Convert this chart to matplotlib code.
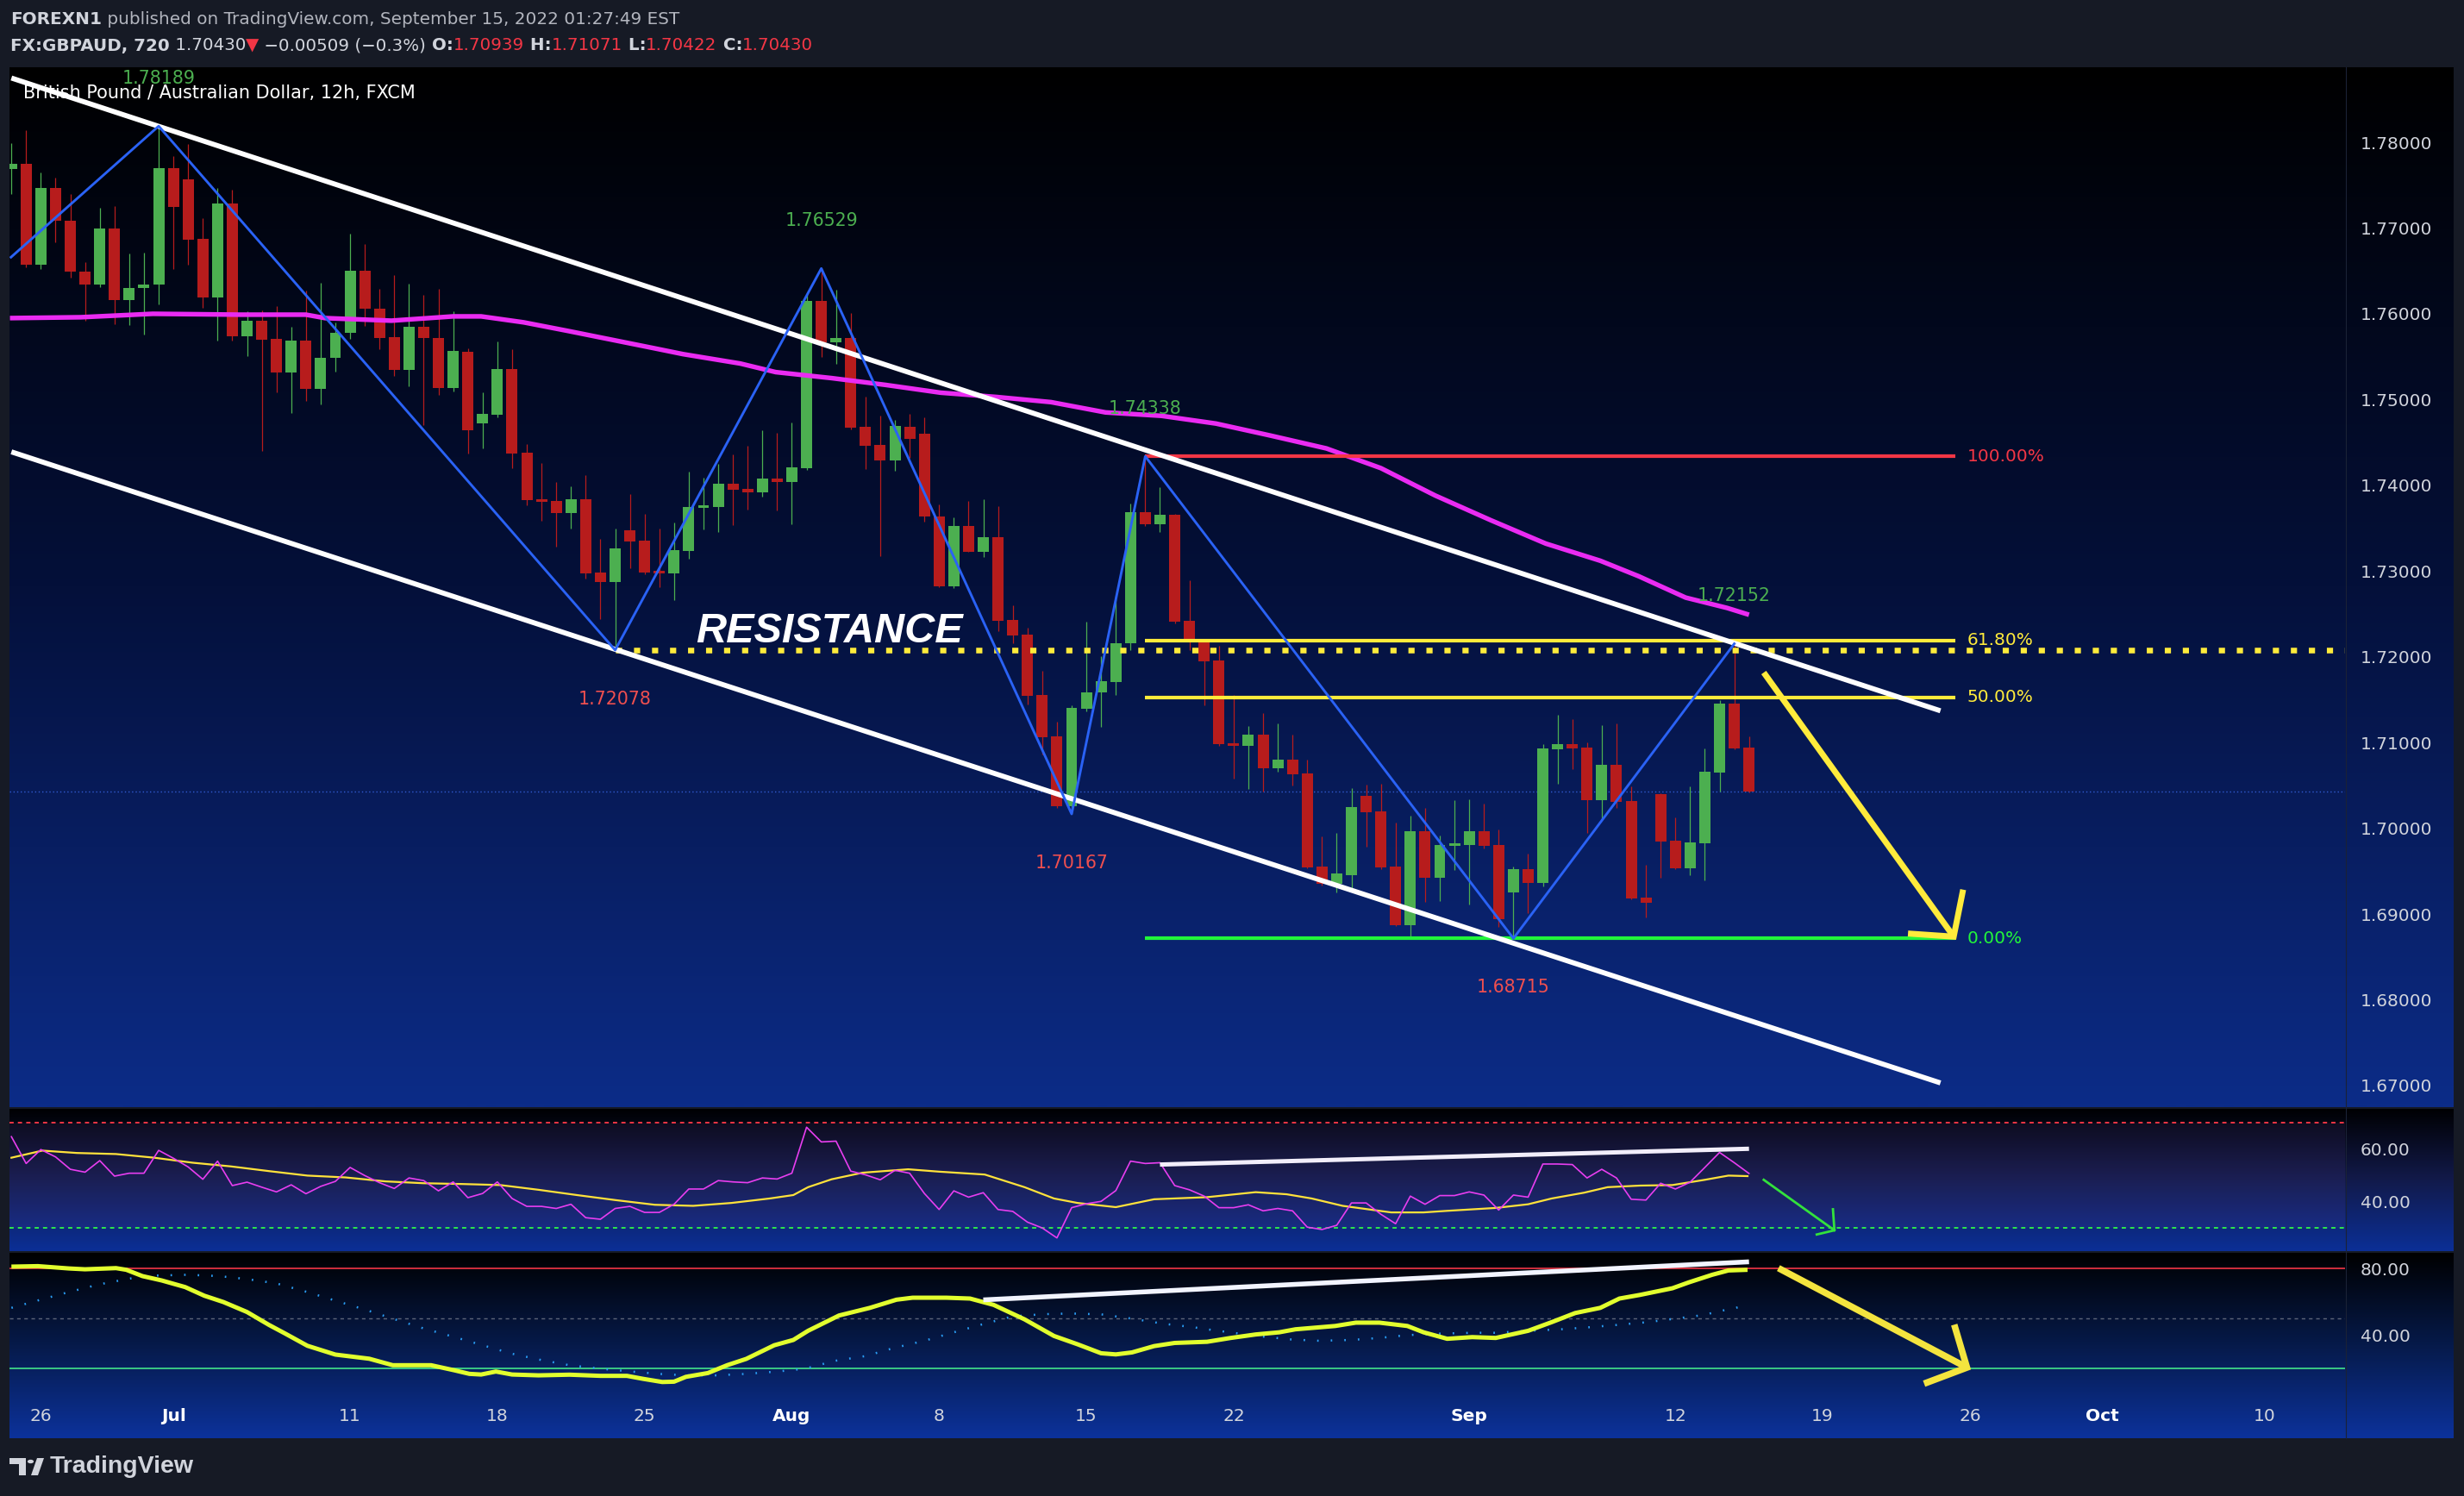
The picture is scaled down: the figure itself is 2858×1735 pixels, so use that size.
import numpy as np
import matplotlib
matplotlib.use("Agg")
import matplotlib.pyplot as plt
from matplotlib.colors import LinearSegmentedColormap
from matplotlib.patches import Rectangle, Polygon, Circle
from matplotlib.lines import Line2D

# ---------------------------------------------------------------- data
# bar index 0 = Sun 26 Jun 2022 17:00 (12h bars, 10 per week)
bar_index = list(range(-2, 117))
opens = [1.77687, 1.77746, 1.76577, 1.77468, 1.77082, 1.76495, 1.76340, 1.76995, 1.76158, 1.76299,
         1.76340, 1.77701, 1.77569, 1.76877, 1.76190, 1.77291, 1.75735, 1.75921, 1.75703, 1.75312,
         1.75689, 1.75121, 1.75485, 1.75776, 1.76504, 1.76063, 1.75730, 1.75344, 1.75853, 1.75721,
         1.75134, 1.75557, 1.74722, 1.74823, 1.75356, 1.74380, 1.73834, 1.73817, 1.73676, 1.73837,
         1.72983, 1.72872, 1.73475, 1.73355, 1.72989, 1.72972, 1.73234, 1.73740, 1.73747, 1.74018,
         1.73958, 1.73918, 1.74079, 1.74038, 1.74199, 1.76150, 1.75667, 1.75718, 1.74682, 1.74471,
         1.74290, 1.74687, 1.74603, 1.73641, 1.72826, 1.73524, 1.73228, 1.73396, 1.72431, 1.72260,
         1.71554, 1.71072, 1.70257, 1.71397, 1.71580, 1.71708, 1.72154, 1.73682, 1.73550, 1.73656,
         1.72420, 1.72165, 1.71956, 1.70984, 1.70966, 1.71094, 1.70695, 1.70801, 1.70640, 1.69555,
         1.69350, 1.69455, 1.70377, 1.70196, 1.69552, 1.68872, 1.69964, 1.69425, 1.69797, 1.69807,
         1.69964, 1.69804, 1.69254, 1.69522, 1.69364, 1.70923, 1.70980, 1.70940, 1.70330, 1.70739,
         1.70316, 1.69190, 1.70397, 1.69854, 1.69535, 1.69827, 1.70652, 1.71453, 1.70939]
highs = [1.77987, 1.78142, 1.77650, 1.77591, 1.77400, 1.76604, 1.77236, 1.77259, 1.76704, 1.76718,
         1.78189, 1.77842, 1.77983, 1.77118, 1.77468, 1.77450, 1.76026, 1.76040, 1.76085, 1.75853,
         1.76267, 1.76358, 1.75903, 1.76936, 1.76809, 1.76295, 1.76454, 1.76354, 1.76222, 1.76295,
         1.76031, 1.75597, 1.75084, 1.75678, 1.75587, 1.74481, 1.74260, 1.74038, 1.73988, 1.74119,
         1.73375, 1.73499, 1.73898, 1.73666, 1.73499, 1.73566, 1.74159, 1.74089, 1.74250, 1.74360,
         1.74461, 1.74642, 1.74612, 1.74732, 1.76231, 1.76529, 1.76281, 1.76009, 1.75034, 1.74813,
         1.74762, 1.74833, 1.74789, 1.73773, 1.73627, 1.73813, 1.73839, 1.73758, 1.72600, 1.72340,
         1.71836, 1.71243, 1.71433, 1.72409, 1.72007, 1.72713, 1.73788, 1.74338, 1.73974, 1.73671,
         1.72892, 1.72175, 1.72128, 1.71554, 1.71192, 1.71342, 1.71221, 1.71094, 1.70801, 1.69906,
         1.69946, 1.70467, 1.70507, 1.70518, 1.70065, 1.70145, 1.70236, 1.69914, 1.70326, 1.70337,
         1.70286, 1.69985, 1.69552, 1.69703, 1.70980, 1.71322, 1.71272, 1.71000, 1.71201, 1.71221,
         1.70487, 1.69572, 1.70410, 1.70125, 1.70487, 1.70930, 1.71493, 1.72152, 1.71071]
lows = [1.77396, 1.76540, 1.76518, 1.76831, 1.76417, 1.75917, 1.76313, 1.75876, 1.75867, 1.75758,
        1.76108, 1.76518, 1.76572, 1.76067, 1.75685, 1.75685, 1.75503, 1.74397, 1.75084, 1.74843,
        1.74984, 1.74948, 1.75325, 1.75712, 1.75858, 1.75585, 1.75280, 1.75153, 1.74702, 1.75052,
        1.75093, 1.74370, 1.74431, 1.74796, 1.74203, 1.73767, 1.73589, 1.73288, 1.73499, 1.72916,
        1.72443, 1.72078, 1.73033, 1.72960, 1.72815, 1.72664, 1.73143, 1.73489, 1.73459, 1.73539,
        1.73720, 1.73871, 1.73710, 1.73549, 1.74179, 1.75497, 1.75416, 1.74650, 1.74189, 1.73174,
        1.74169, 1.74321, 1.73579, 1.72810, 1.72797, 1.73221, 1.73159, 1.72296, 1.72157, 1.71448,
        1.70863, 1.70240, 1.70167, 1.71368, 1.71185, 1.71558, 1.72073, 1.73528, 1.73459, 1.72391,
        1.72073, 1.71437, 1.70960, 1.70575, 1.70461, 1.70432, 1.70655, 1.70494, 1.69533, 1.69330,
        1.69251, 1.69274, 1.69787, 1.69519, 1.68860, 1.68741, 1.69143, 1.69153, 1.69515, 1.69113,
        1.69767, 1.68852, 1.68715, 1.69012, 1.69324, 1.70521, 1.70692, 1.69948, 1.70109, 1.70239,
        1.69170, 1.68962, 1.69425, 1.69525, 1.69455, 1.69395, 1.70430, 1.70923, 1.70422]
closes = [1.77746, 1.76577, 1.77468, 1.77082, 1.76495, 1.76340, 1.76995, 1.76158, 1.76304, 1.76345,
          1.77701, 1.77250, 1.76868, 1.76190, 1.77291, 1.75735, 1.75921, 1.75694, 1.75312, 1.75689,
          1.75121, 1.75489, 1.75780, 1.76504, 1.76058, 1.75721, 1.75344, 1.75853, 1.75717, 1.75134,
          1.75571, 1.74642, 1.74833, 1.75356, 1.74370, 1.73827, 1.73810, 1.73676, 1.73837, 1.72972,
          1.72872, 1.73264, 1.73348, 1.72983, 1.72972, 1.73244, 1.73747, 1.73757, 1.74018, 1.73951,
          1.73918, 1.74079, 1.74038, 1.74209, 1.76150, 1.75667, 1.75718, 1.74672, 1.74461, 1.74290,
          1.74692, 1.74544, 1.73641, 1.72826, 1.73524, 1.73228, 1.73396, 1.72424, 1.72252, 1.71547,
          1.71064, 1.70257, 1.71404, 1.71583, 1.71715, 1.72157, 1.73682, 1.73550, 1.73656, 1.72413,
          1.72165, 1.71949, 1.70977, 1.70966, 1.71094, 1.70695, 1.70801, 1.70633, 1.69544, 1.69350,
          1.69474, 1.70246, 1.70189, 1.69545, 1.68872, 1.69964, 1.69425, 1.69804, 1.69814, 1.69964,
          1.69797, 1.68942, 1.69522, 1.69364, 1.70930, 1.70980, 1.70933, 1.70330, 1.70739, 1.70310,
          1.69183, 1.69133, 1.69847, 1.69535, 1.69834, 1.70658, 1.71453, 1.70933, 1.70430]

ema_idx = [-2.1, 2.7, 7.6, 13.5, 18.0, 19.3, 23.8, 28.0, 29.9, 32.8, 35.8, 38.7, 41.6, 43.6, 47.5,
           49.9, 53.7, 57.4, 61.1, 64.9, 68.6, 72.3, 76.1, 79.8, 83.5, 87.3, 91.0, 94.7, 98.5,
           102.2, 105.9, 108.5, 111.7, 114.5, 116.0]
ema_val = [1.7595, 1.7596, 1.7600, 1.7599, 1.7599, 1.7595, 1.7592, 1.7597, 1.7597, 1.7590, 1.7580,
           1.7570, 1.7560, 1.7553, 1.7542, 1.7532, 1.7525, 1.7517, 1.7508, 1.7503, 1.7497, 1.7485,
           1.7481, 1.7472, 1.7458, 1.7443, 1.7420, 1.7388, 1.7359, 1.7332, 1.7312, 1.7294, 1.7269,
           1.7257, 1.7249]

zigzag_idx = [-2.03, 8, 39, 53, 70, 75, 100, 115]
zigzag_val = [1.7666, 1.78189, 1.72078, 1.76529, 1.70167, 1.74338, 1.68715, 1.72152]
swing_high_idx = [8, 53, 75, 115]
swing_high_val = [1.78189, 1.76529, 1.74338, 1.72152]
swing_low_idx = [39, 70, 100]
swing_low_val = [1.72078, 1.70167, 1.68715]

channel_idx = [-2.0, 129.0]
channel_upper = [1.7875, 1.7137]
channel_lower = [1.7439, 1.6703]

fib_levels = [1.74338, 1.72190, 1.71527, 1.68715]
fib_labels = ["100.00%", "61.80%", "50.00%", "0.00%"]
fib_colors = ["#f23645", "#ffeb3b", "#ffeb3b", "#22f53a"]
fib_span = [75, 130]

resistance_level = 1.72078
resistance_start = 39
last_price = 1.70430

main_arrow_idx = [117.0, 129.9]
main_arrow_val = [1.71816, 1.68736]
main_head_idx = [130.5, 129.9, 127.0]
main_head_val = [1.6925, 1.68736, 1.6877]

price_ticks = [1.67, 1.68, 1.69, 1.70, 1.71, 1.72, 1.73, 1.74, 1.75, 1.76, 1.77, 1.78]

rsi_values = [64.6, 54.4, 59.7, 56.9, 52.2, 51.1, 55.5, 49.6, 50.7, 50.7,
              59.4, 56.4, 53.1, 48.4, 55.3, 46.0, 47.3, 45.4, 43.6, 46.3,
              42.9, 45.7, 47.6, 52.9, 49.8, 47.1, 44.9, 48.9, 47.9, 44.0,
              47.4, 41.4, 43.0, 47.4, 41.1, 38.1, 38.1, 37.3, 38.9, 33.8,
              33.2, 37.3, 38.1, 35.8, 35.8, 38.9, 44.7, 44.7, 47.9, 47.4,
              47.1, 48.9, 48.5, 50.7, 68.2, 62.6, 62.9, 51.5, 50.1, 48.2,
              51.8, 50.7, 43.0, 36.9, 44.0, 41.6, 43.3, 36.9, 36.2, 32.1,
              29.9, 26.1, 37.6, 39.1, 40.0, 44.1, 55.3, 54.4, 54.7, 46.0,
              44.4, 42.0, 37.6, 37.6, 38.7, 36.4, 37.3, 36.4, 30.2, 29.3,
              30.9, 39.4, 39.4, 35.1, 31.5, 42.0, 38.9, 42.2, 42.2, 43.6,
              42.4, 36.7, 42.4, 41.6, 54.2, 54.2, 54.0, 48.9, 52.2, 48.9,
              40.8, 40.5, 46.9, 44.7, 47.3, 52.9, 58.6, 54.7, 50.6]
rsi_ma_idx = [-2.0, 0.1, 2.45, 5.1, 7.7, 10.3, 12.9, 15.5, 18.1, 20.7, 23.4, 26.0, 28.6, 31.2,
              33.8, 36.4, 39.0, 41.7, 44.3, 46.9, 49.5, 51.1, 52.1, 53.7, 55.8, 58.9, 61.0,
              64.1, 66.8, 68.8, 70.4, 73.0, 75.6, 79.2, 82.5, 84.6, 86.3, 88.4, 91.7, 93.9,
              95.5, 98.8, 101.0, 102.6, 104.8, 106.4, 108.6, 110.8, 113.0, 114.6, 115.9]
rsi_ma_val = [56.6, 59.3, 58.4, 58.0, 56.6, 54.7, 53.3, 51.5, 49.8, 49.1, 47.6, 46.9, 46.6, 46.2,
              44.4, 42.4, 40.5, 38.7, 38.3, 39.4, 41.1, 42.4, 45.4, 48.4, 50.9, 52.2, 51.3,
              50.2, 45.4, 41.1, 39.4, 37.8, 40.8, 41.6, 43.5, 42.7, 41.1, 38.3, 35.8, 35.8,
              36.4, 37.5, 38.9, 41.1, 43.3, 45.4, 46.0, 46.2, 48.2, 49.8, 49.6]
rsi_trend_idx = [76, 116]
rsi_trend_val = [54.0, 60.0]
rsi_arrow_idx = [117.0, 121.8]
rsi_arrow_val = [48.2, 29.0]
rsi_head_idx = [121.7, 121.8, 120.6]
rsi_head_val = [37.0, 29.0, 27.4]

stoch_idx = [-2.0, -0.2, 1.9, 3.0, 5.1, 5.8, 6.9, 8.2, 9.8, 11.1, 12.4, 14.0, 15.5, 16.6, 18.1,
             20.0, 22.3, 23.9, 25.2, 26.5, 28.1, 29.1, 29.9, 30.9, 32.0, 33.8, 35.9, 38.0, 39.8,
             40.9, 42.2, 43.0, 43.8, 45.3, 46.6, 47.9, 49.8, 51.1, 52.1, 54.2, 56.3, 58.1, 59.2,
             61.5, 63.1, 64.7, 66.8, 68.8, 70.4, 72.0, 73.0, 74.1, 75.6, 77.0, 79.2, 80.8, 82.5,
             84.1, 85.2, 87.9, 89.3, 90.9, 92.8, 93.9, 95.5, 97.2, 98.8, 101.0, 102.6, 104.2,
             105.9, 107.2, 108.6, 110.8, 111.9, 113.5, 114.6, 115.9]
stoch_val = [81.2, 81.5, 80.1, 79.6, 80.3, 79.3, 75.5, 72.9, 68.9, 63.7, 59.9, 53.9, 46.1, 40.9,
             33.6, 28.3, 25.8, 21.9, 21.9, 21.9, 18.8, 16.7, 16.3, 18.1, 16.3, 15.8, 16.2, 15.5,
             15.5, 13.7, 11.8, 12.0, 14.9, 17.2, 21.9, 25.7, 33.9, 37.1, 42.6, 51.8, 56.4, 61.3,
             62.5, 62.5, 62.0, 58.2, 49.5, 39.5, 34.5, 29.1, 28.4, 29.6, 33.4, 35.3, 36.0, 38.3,
             40.4, 41.7, 43.5, 45.5, 47.5, 47.5, 45.5, 41.7, 37.8, 38.8, 38.3, 42.6, 47.8, 53.3,
             56.4, 62.0, 64.2, 68.2, 71.7, 76.3, 78.9, 79.3]
signal_idx = [-2.0, 0.1, 1.9, 4.0, 6.1, 7.7, 10.0, 12.1, 14.0, 16.0, 18.1, 20.2, 22.1, 23.9, 26.0,
              28.1, 30.2, 32.0, 34.1, 35.9, 38.0, 40.1, 41.9, 43.8, 45.9, 47.9, 50.0, 51.9, 53.9,
              56.0, 57.9, 60.0, 62.0, 63.9, 66.0, 68.1, 69.9, 72.0, 74.1, 76.2, 78.3, 79.2, 81.4,
              83.0, 84.9, 86.8, 89.0, 90.9, 92.8, 95.0, 97.2, 98.8, 101.0, 103.2, 105.1, 107.0,
              109.1, 111.0, 112.9, 114.0, 115.1, 115.9]
signal_val = [56.4, 61.6, 65.9, 70.6, 74.1, 75.8, 76.3, 75.5, 73.7, 71.1, 65.9, 60.2, 55.1, 49.9,
              44.0, 38.8, 33.4, 28.8, 24.8, 21.9, 19.8, 18.1, 16.7, 15.8, 15.8, 16.7, 18.1, 19.8,
              24.5, 27.4, 32.2, 36.6, 41.7, 46.4, 51.3, 52.6, 53.0, 52.5, 49.9, 46.9, 44.7, 43.5,
              40.9, 39.1, 37.4, 36.6, 37.1, 38.3, 40.0, 40.9, 41.4, 41.4, 42.6, 43.5, 44.7, 46.1,
              47.8, 49.9, 52.1, 54.4, 56.4, 58.2]
stoch_trend_idx = [64, 116]
stoch_trend_val = [61.2, 84.1]
stoch_arrow_idx = [118.0, 130.8]
stoch_arrow_val = [80.3, 20.5]
stoch_head_idx = [130.0, 130.8, 128.1]
stoch_head_val = [44.4, 20.5, 11.5]

time_tick_idx = [0, 9, 21, 31, 41, 51, 61, 71, 81, 97, 111, 121, 131, 140, 151]
time_tick_labels = ["26", "Jul", "11", "18", "25", "Aug", "8", "15", "22", "Sep", "12", "19",
                    "26", "Oct", "10"]

# ---------------------------------------------------------------- figure
W, H, DPI = 2858, 1735, 100
GREEN, RED = "#4caf50", "#b71c1c"
TXT = "#d1d4dc"
XMIN, XMAX = -2.131, 156.475

fig = plt.figure(figsize=(W / DPI, H / DPI), dpi=DPI, facecolor="#161a25")


def add_ax(x0, y0, x1, y1):
    return fig.add_axes([x0 / W, 1 - y1 / H, (x1 - x0) / W, (y1 - y0) / H])


def gradient(y0, y1, colors):
    a = add_ax(11, y0, 2846, y1)
    cmap = LinearSegmentedColormap.from_list("g", colors)
    grad = cmap(np.linspace(0, 1, 512))[:, None, :3]
    a.imshow(grad, aspect="auto", extent=[0, 1, 0, 1], origin="upper", interpolation="bilinear")
    a.set_axis_off()
    return a


def style(a):
    a.set_facecolor("none")
    for s in a.spines.values():
        s.set_visible(False)
    a.set_xlim(XMIN, XMAX)
    a.yaxis.tick_right()
    a.tick_params(axis="y", length=0, pad=13, labelsize=14.5, labelcolor=TXT)
    a.tick_params(axis="x", length=0)


gradient(78, 1284, ["#000000", "#04103a", "#0c2c88"])
gradient(1286, 1451, ["#000002", "#121a4a", "#0b2f96"])
gradient(1453, 1668, ["#000000", "#061a4a", "#0c329b"])

# ---------------- main price pane
ax = add_ax(11, 78, 2720, 1284)
style(ax)
ax.set_ylim(1.667476, 1.788755)
ax.set_yticks(price_ticks)
ax.set_yticklabels([f"{v:.5f}" for v in price_ticks])
ax.set_xticks([])

idx = np.array(bar_index, dtype=float)
o, hh, ll, c = (np.array(v) for v in (opens, highs, lows, closes))
col = np.where(c >= o, GREEN, RED)
ax.vlines(idx, ll, hh, colors=col, lw=0.9, zorder=2)
ax.bar(idx, np.maximum(np.abs(c - o), 0.00028), bottom=np.minimum(o, c), width=0.76,
       color=col, lw=0, zorder=2.1)

ax.axhline(last_price, color="#3d6cf0", lw=1.0, ls=(0, (1, 2)), alpha=0.8, zorder=1.5)

ax.plot(ema_idx, ema_val, color="#ea2bf2", lw=3.9, zorder=3, solid_capstyle="butt")

for lev, lab, cc in zip(fib_levels, fib_labels, fib_colors):
    ax.plot(fib_span, [lev, lev], color=cc, lw=3.0, zorder=4, solid_capstyle="butt")
    ax.text(fib_span[1] + 0.8, lev, lab, color=cc, fontsize=14.5, va="center", ha="left", zorder=8)

ax.plot([resistance_start, XMAX], [resistance_level, resistance_level], color="#ffeb3b", lw=4.7,
        ls=(0, (1.1, 2.1)), dash_capstyle="butt", zorder=4)

ax.plot(channel_idx, channel_upper, color="white", lw=4.2, zorder=5, solid_capstyle="butt")
ax.plot(channel_idx, channel_lower, color="white", lw=4.2, zorder=5, solid_capstyle="butt")

ax.plot(zigzag_idx, zigzag_val, color="#2a62f5", lw=2.1, zorder=6)

for i, v in zip(swing_high_idx, swing_high_val):
    ax.annotate(f"{v:.5f}", (i, v), xytext=(0, 40), textcoords="offset points", ha="center",
                va="center", color="#4caf50", fontsize=14.8, zorder=8)
for i, v in zip(swing_low_idx, swing_low_val):
    ax.annotate(f"{v:.5f}", (i, v), xytext=(0, -41), textcoords="offset points", ha="center",
                va="center", color="#ef4f4f", fontsize=14.8, zorder=8)

ax.text(44.5, 1.72168, "RESISTANCE", family="Liberation Sans", weight="bold", style="italic",
        fontsize=35, color="white", ha="left", va="baseline", zorder=8)

ax.plot(main_arrow_idx, main_arrow_val, color="#ffeb3b", lw=5, zorder=7, solid_capstyle="butt")
ax.plot(main_head_idx, main_head_val, color="#ffeb3b", lw=5, zorder=7, solid_joinstyle="miter")

ax.text(-1.2, 1.78575, "British Pound / Australian Dollar, 12h, FXCM", color="white",
        fontsize=15, va="center", ha="left", zorder=9)

# ---------------- RSI pane
axr = add_ax(11, 1286, 2720, 1451)
style(axr)
axr.set_ylim(21.08, 75.18)
axr.set_yticks([40, 60])
axr.set_yticklabels(["40.00", "60.00"])
axr.set_xticks([])
axr.axhspan(30, 70, color="#7e57c2", alpha=0.09, lw=0)
axr.axhline(70, color="#f23645", lw=1.4, ls=(0, (2.5, 2.5)))
axr.axhline(30, color="#2ee84a", lw=1.4, ls=(0, (2.5, 2.5)))
axr.plot(rsi_ma_idx, rsi_ma_val, color="#ffe23b", lw=1.6, zorder=3)
axr.plot(bar_index, rsi_values, color="#e83ef0", lw=1.2, zorder=4)
axr.plot(rsi_trend_idx, rsi_trend_val, color="#f2eefa", lw=3.6, zorder=5, solid_capstyle="butt")
axr.plot(rsi_arrow_idx, rsi_arrow_val, color="#33e23c", lw=2.0, zorder=5)
axr.plot(rsi_head_idx, rsi_head_val, color="#33e23c", lw=2.0, zorder=5)

# ---------------- Stochastic pane + time axis
axs = add_ax(11, 1453, 2720, 1668)
style(axs)
axs.set_ylim(-22.02, 89.49)
axs.set_yticks([40, 80])
axs.set_yticklabels(["40.00", "80.00"])
axs.axhline(80, color="#f23645", lw=1.2)
axs.axhline(50, color="#5d6478", lw=1.0, ls=(0, (3, 3)))
axs.axhline(20, color="#42e58a", lw=1.2)
axs.plot(signal_idx, signal_val, color="#2a9df4", lw=1.8, ls=(0, (0.7, 5.6)), zorder=3)
axs.plot(stoch_idx, stoch_val, color="#e2ff2e", lw=3.6, zorder=4, solid_capstyle="butt")
axs.plot(stoch_trend_idx, stoch_trend_val, color="#f2f4ff", lw=4.0, zorder=5, solid_capstyle="butt")
axs.plot(stoch_arrow_idx, stoch_arrow_val, color="#f4e43e", lw=5.5, zorder=5, solid_capstyle="butt")
axs.plot(stoch_head_idx, stoch_head_val, color="#f4e43e", lw=5.5, zorder=5, solid_joinstyle="miter")
axs.set_xticks(time_tick_idx)
axs.set_xticklabels(time_tick_labels)
axs.tick_params(axis="x", length=0, pad=-25, labelsize=14.5, labelcolor=TXT)
for t in axs.get_xticklabels():
    if not t.get_text().isdigit():
        t.set_fontweight("bold")
        t.set_color("white")

# price-scale separator
fig.add_artist(Line2D([2720.5 / W] * 2, [1 - 78 / H, 1 - 1668 / H], color="#1b2236", lw=0.8))

# ---------------- header
renderer = fig.canvas.get_renderer()


def seq_text(x, y, parts, size):
    for s, color, weight in parts:
        t = fig.text(x / W, 1 - y / H, s, color=color, fontsize=size, fontweight=weight,
                     va="center", ha="left")
        x += t.get_window_extent(renderer=renderer).width


seq_text(12, 23, [("FOREXN1", "#d1d4dc", "bold"),
                  (" published on TradingView.com, September 15, 2022 01:27:49 EST", "#b2b5be", "normal")], 14.4)
seq_text(12, 53, [("FX:GBPAUD, 720", "#d1d4dc", "bold"), (" 1.70430", "#d1d4dc", "normal"),
                  ("\u25bc", "#f23645", "normal"), (" \u22120.00509 (\u22120.3%) ", "#d1d4dc", "normal"),
                  ("O:", "#d1d4dc", "bold"), ("1.70939", "#f23645", "normal"),
                  (" H:", "#d1d4dc", "bold"), ("1.71071", "#f23645", "normal"),
                  (" L:", "#d1d4dc", "bold"), ("1.70422", "#f23645", "normal"),
                  (" C:", "#d1d4dc", "bold"), ("1.70430", "#f23645", "normal")], 14.3)

# ---------------- TradingView logo
LOGO = "#d1d4dc"
fig.add_artist(Rectangle((11 / W, 1 - 1698 / H), 19 / W, 7 / H, transform=fig.transFigure,
                         color=LOGO, lw=0))
fig.add_artist(Rectangle((22 / W, 1 - 1711 / H), 8 / W, 20 / H, transform=fig.transFigure,
                         color=LOGO, lw=0))
fig.add_artist(Circle((35.5 / W, 1 - 1695 / H), 3.6 / W, transform=fig.transFigure, color=LOGO, lw=0))
fig.add_artist(Polygon([(43 / W, 1 - 1691 / H), (51 / W, 1 - 1691 / H), (44 / W, 1 - 1711 / H),
                        (36 / W, 1 - 1711 / H)], closed=True, transform=fig.transFigure,
                       color=LOGO, lw=0))
fig.text(58 / W, 1 - 1701 / H, "TradingView", family="Liberation Sans", weight="bold",
         fontsize=20.5, color=LOGO, va="center", ha="left")

fig.savefig("out.png", dpi=DPI, facecolor=fig.get_facecolor())
